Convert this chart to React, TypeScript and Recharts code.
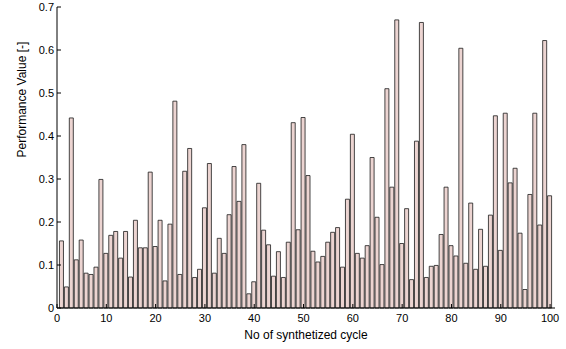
import { BarChart, Bar, XAxis, YAxis } from "recharts";

const performance = [
  0.156, 0.049, 0.442, 0.112, 0.158, 0.081, 0.078, 0.095, 0.299, 0.127,
  0.169, 0.178, 0.116, 0.178, 0.072, 0.204, 0.14, 0.14, 0.316, 0.143,
  0.204, 0.063, 0.195, 0.481, 0.078, 0.318, 0.371, 0.071, 0.09, 0.233,
  0.336, 0.081, 0.162, 0.127, 0.217, 0.329, 0.248, 0.38, 0.033, 0.061,
  0.29, 0.181, 0.147, 0.074, 0.131, 0.071, 0.153, 0.431, 0.182, 0.443,
  0.308, 0.132, 0.107, 0.12, 0.153, 0.176, 0.187, 0.095, 0.253, 0.404,
  0.127, 0.116, 0.145, 0.35, 0.211, 0.101, 0.51, 0.281, 0.67, 0.15,
  0.231, 0.066, 0.388, 0.664, 0.071, 0.097, 0.099, 0.171, 0.281, 0.145,
  0.121, 0.604, 0.104, 0.244, 0.09, 0.183, 0.097, 0.216, 0.447, 0.134,
  0.453, 0.291, 0.325, 0.174, 0.043, 0.264, 0.453, 0.193, 0.622, 0.261,
];

const xTicks = [0, 10, 20, 30, 40, 50, 60, 70, 80, 90, 100];
const yTicks = [0, 0.1, 0.2, 0.3, 0.4, 0.5, 0.6, 0.7];

const data = performance.map((v, i) => ({ cycle: i + 1, value: v }));

const font = "'Liberation Sans', Arial, sans-serif";

// MATLAB style ticks: short mark pointing into the plot, label outside
const BottomTick = (props: any) => (
  <g>
    <line x1={props.x} x2={props.x} y1={props.y} y2={props.y - 4} stroke="#000" />
    <text x={props.x} y={props.y + 14} textAnchor="middle" fontSize={11} fontFamily={font} fill="#000">
      {props.payload.value}
    </text>
  </g>
);

const TopTick = (props: any) => (
  <line x1={props.x} x2={props.x} y1={props.y} y2={props.y + 4} stroke="#000" />
);

const LeftTick = (props: any) => (
  <g>
    <line x1={props.x} x2={props.x + 4} y1={props.y} y2={props.y} stroke="#000" />
    <text x={props.x - 3} y={props.y + 4} textAnchor="end" fontSize={11} fontFamily={font} fill="#000">
      {props.payload.value}
    </text>
  </g>
);

const RightTick = (props: any) => (
  <line x1={props.x} x2={props.x - 4} y1={props.y} y2={props.y} stroke="#000" />
);

export default function App() {
  return (
    <div style={{ position: "absolute", left: 0, top: 0, background: "#fff" }}>
      <BarChart width={566} height={349} data={data} margin={{ top: 7, right: 11, left: 0, bottom: 0 }}>
        <XAxis
          dataKey="cycle"
          type="number"
          domain={[0, 101]}
          ticks={xTicks}
          interval={0}
          height={41}
          tickSize={0}
          tickMargin={0}
          tick={<BottomTick />}
          axisLine={{ stroke: "#000" }}
          label={{ value: "No of synthetized cycle", position: "insideBottom", offset: 10, fontSize: 12, fontFamily: font, fill: "#000" }}
        />
        <XAxis
          xAxisId="top"
          orientation="top"
          type="number"
          domain={[0, 101]}
          ticks={xTicks}
          interval={0}
          height={0}
          tickSize={0}
          tickMargin={0}
          tick={<TopTick />}
          axisLine={{ stroke: "#000" }}
        />
        <YAxis
          type="number"
          domain={[0, 0.7]}
          ticks={yTicks}
          interval={0}
          width={57}
          tickSize={0}
          tickMargin={0}
          tick={<LeftTick />}
          axisLine={{ stroke: "#000" }}
          label={{ value: "Performance Value [-]", angle: -90, position: "insideLeft", offset: 22, fontSize: 12, fontFamily: font, fill: "#000" }}
        />
        <YAxis
          yAxisId="right"
          orientation="right"
          type="number"
          domain={[0, 0.7]}
          ticks={yTicks}
          interval={0}
          width={0}
          tickSize={0}
          tickMargin={0}
          tick={<RightTick />}
          axisLine={{ stroke: "#000" }}
        />
        <Bar dataKey="value" barSize={4} fill="#ecd4d1" stroke="#1a1a1a" strokeWidth={0.8} isAnimationActive={false} />
      </BarChart>
    </div>
  );
}
